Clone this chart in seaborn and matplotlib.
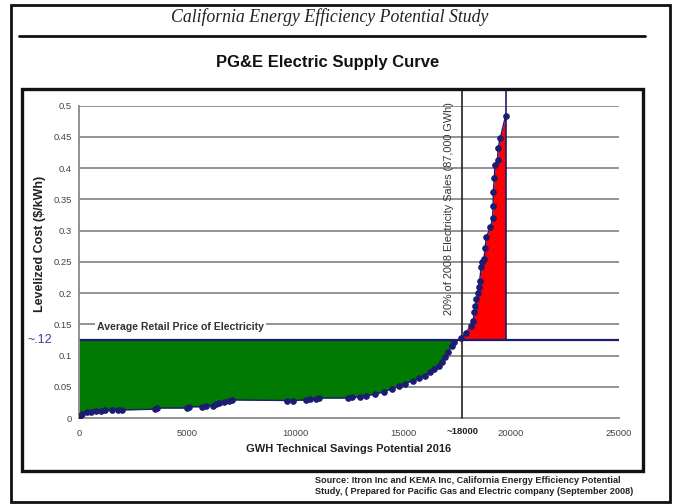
import matplotlib
matplotlib.use("Agg")
import matplotlib.pyplot as plt
import matplotlib.transforms as mtransforms
from matplotlib.patches import Rectangle
from matplotlib.lines import Line2D
import numpy as np
import pandas as pd
import seaborn as sns

# Cumulative technical savings (GWh) and levelized cost ($/kWh) of each measure
savings_gwh = [0, 60, 150, 350, 570, 800, 1000, 1200, 1550, 1800, 2000, 3500, 3600,
               5000, 5100, 5700, 5900, 6200, 6350, 6500, 6700, 6950, 7100, 9650, 9900,
               10500, 10700, 10950, 11100, 12450, 12650, 13000, 13300, 13700, 14100,
               14500, 14800, 15100, 15450, 15750, 16000, 16250, 16450, 16650, 16800,
               16950, 17100, 17250, 17350, 17700, 17900, 18150, 18250, 18300, 18350,
               18400, 18450, 18500, 18550, 18620, 18650, 18750, 18800, 18860, 19050,
               19150, 19170, 19180, 19230, 19250, 19380, 19400, 19500, 19750]
cost_kwh = [0.000, 0.004, 0.007, 0.009, 0.010, 0.011, 0.012, 0.013, 0.013, 0.013, 0.013,
            0.014, 0.016, 0.016, 0.018, 0.018, 0.019, 0.020, 0.022, 0.024, 0.025, 0.027,
            0.029, 0.028, 0.028, 0.029, 0.030, 0.031, 0.032, 0.032, 0.033, 0.034, 0.036,
            0.038, 0.042, 0.047, 0.051, 0.055, 0.060, 0.064, 0.068, 0.073, 0.078, 0.084,
            0.090, 0.097, 0.106, 0.116, 0.122, 0.128, 0.136, 0.148, 0.155, 0.170, 0.180,
            0.190, 0.200, 0.210, 0.220, 0.242, 0.250, 0.255, 0.272, 0.290, 0.305, 0.320,
            0.340, 0.362, 0.385, 0.405, 0.413, 0.432, 0.448, 0.484]

retail_price = 0.125          # average retail price of electricity ($/kWh)
sales_share_gwh = 17750       # ~18000 GWh, 20% of 2008 electricity sales
max_savings_gwh = 19750       # end of technical potential

x_ticks = [0, 5000, 10000, 15000, 20000, 25000]
y_ticks = [0, 0.05, 0.1, 0.15, 0.2, 0.25, 0.3, 0.35, 0.4, 0.45, 0.5]
y_tick_labels = ["0", "0.05", "0.1", "0.15", "0.2", "0.25", "0.3", "0.35", "0.4", "0.45", "0.5"]

df = pd.DataFrame({"savings": savings_gwh, "cost": cost_kwh})

sns.set_theme(style="white")
plt.rcParams["font.family"] = ["Liberation Sans", "DejaVu Sans"]

W, H = 680, 504
fig = plt.figure(figsize=(W / 100, H / 100), dpi=100)


def fx(px):
    return px / W


def fy(py):
    return 1 - py / H


ax = fig.add_axes([fx(79), fy(418), fx(619) - fx(79), fy(105.7) - fy(418)])

navy = "#1c1c72"
grid_gray = "#8a8a8a"

x = np.array(savings_gwh, dtype=float)
y = np.array(cost_kwh, dtype=float)

# Cost-effective savings below retail price (green) and remaining potential above it (red)
ax.fill_between(x, y, retail_price, where=y <= retail_price, interpolate=True,
                color="#007a00", lw=0, zorder=1)
ax.fill_between(x, retail_price, y, where=y >= retail_price, interpolate=True,
                color="#ff0000", lw=0, zorder=1)

for t in y_ticks[1:]:
    ax.axhline(t, color=grid_gray, lw=1.3, zorder=0.5)

ax.axhline(retail_price, color=navy, lw=1.6, zorder=2)

sns.lineplot(data=df, x="savings", y="cost", ax=ax, color=navy, lw=1.0,
             marker="o", markersize=4.0, markeredgecolor=navy, markerfacecolor=navy,
             zorder=4, estimator=None, sort=False)

ymax_line = (418 - 89) / 624
ax.plot([sales_share_gwh, sales_share_gwh], [0, ymax_line], color="#222222", lw=1.2,
        clip_on=False, zorder=3)
ax.plot([max_savings_gwh, max_savings_gwh], [retail_price, ymax_line], color=navy,
        lw=1.2, clip_on=False, zorder=3)

ax.set_xlim(0, 25000)
ax.set_ylim(0, 0.5)
ax.set_xticks(x_ticks)
ax.set_xticklabels([str(t) for t in x_ticks])
ax.set_yticks(y_ticks)
ax.set_yticklabels(y_tick_labels)
ax.tick_params(axis="both", labelsize=6.8, labelcolor="#444444", color=grid_gray,
               length=3, width=1.0, direction="out")
ax.tick_params(axis="x", pad=5)
ax.tick_params(axis="y", pad=2)
ax.set_xlabel("")
ax.set_ylabel("")
for side in ["top", "right"]:
    ax.spines[side].set_visible(False)
for side in ["left", "bottom"]:
    ax.spines[side].set_color(grid_gray)
    ax.spines[side].set_linewidth(1.3)
ax.grid(False)

# Annotations
ax.text(840, 0.146, "Average Retail Price of Electricity", fontsize=7.6, fontweight="bold",
        color="#333333", ha="left", va="center", zorder=5,
        bbox=dict(facecolor="white", edgecolor="none", pad=1.5))
ax.text(17130, 0.336, "20% of 2008 Electricity Sales (87,000 GWh)", fontsize=7.8,
        color="#333333", rotation=90, ha="center", va="center", zorder=5)

trans_y = mtransforms.blended_transform_factory(ax.transAxes, ax.transData)
ax.text(-0.072, retail_price, "~.12", fontsize=9, color="#3a3a9a", ha="center",
        va="center", transform=trans_y)
trans_x = mtransforms.blended_transform_factory(ax.transData, fig.transFigure)
ax.text(sales_share_gwh, fy(432), "~18000", fontsize=6.8, fontweight="bold",
        color="#222222", ha="center", va="center", transform=trans_x)

fig.text(0.5 * (fx(79) + fx(619)), fy(449), "GWH Technical Savings Potential 2016",
         fontsize=8, fontweight="bold", color="#222222", ha="center", va="center")
fig.text(fx(40), fy(244), "Levelized Cost ($/kWh)", fontsize=9, fontweight="bold",
         color="#222222", rotation=90, ha="center", va="center")

# Page furniture: frames, headings and source note
fig.add_artist(Rectangle((fx(11), fy(502)), fx(670) - fx(11), fy(5) - fy(502),
                         fill=False, edgecolor="#111111", lw=2.0,
                         transform=fig.transFigure))
fig.add_artist(Rectangle((fx(21.5), fy(470.5)), fx(643) - fx(21.5), fy(89) - fy(470.5),
                         fill=False, edgecolor="#111111", lw=2.4,
                         transform=fig.transFigure))
fig.add_artist(Line2D([fx(19), fx(645)], [fy(36), fy(36)], color="#111111", lw=2.0,
                      transform=fig.transFigure))
fig.text(fx(330), fy(17), "California Energy Efficiency Potential Study",
         family=["Liberation Serif", "DejaVu Serif"], style="italic", fontsize=12.8,
         color="#222222", ha="center", va="center")
fig.text(fx(328), fy(63), "PG&E Electric Supply Curve", fontsize=12,
         fontweight="bold", color="#111111", ha="center", va="center")
fig.text(fx(315), fy(480.5), "Source: Itron Inc and KEMA Inc, California Energy Efficiency Potential",
         fontsize=6.6, fontweight="bold", color="#222222", ha="left", va="center")
fig.text(fx(315), fy(492), "Study, ( Prepared for Pacific Gas and Electric company (September 2008)",
         fontsize=6.6, fontweight="bold", color="#222222", ha="left", va="center")

fig.savefig("out.png", dpi=100)
